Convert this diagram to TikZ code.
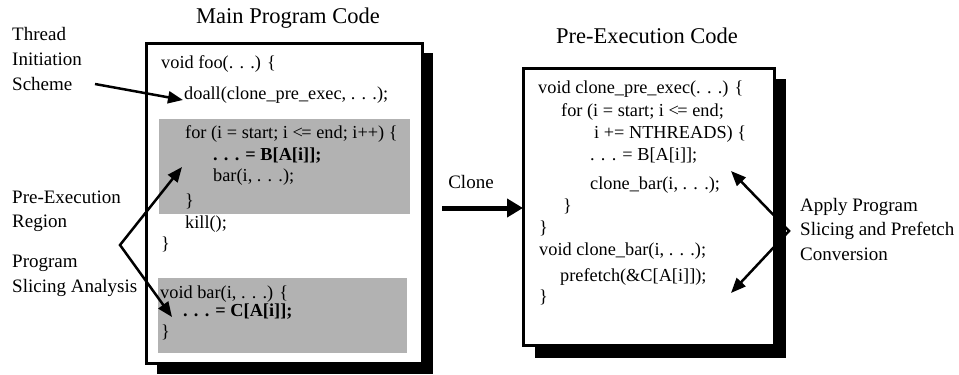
\documentclass[tikz,border=0pt]{standalone}
\usepackage{fontspec}
\setmainfont{Liberation Serif}
\usetikzlibrary{arrows.meta}
\definecolor{regiongray}{RGB}{178,178,178}
\newcommand{\ddd}{.\hspace{0.34em}.\hspace{0.34em}.}
\newcommand{\lte}{<\kern-0.08em=}
\begin{document}
\begin{tikzpicture}[x=1pt,y=-1pt,
  codetxt/.style={anchor=west,inner sep=0pt,font=\fontsize{18.3}{20}\selectfont,text height=0.7em,text depth=0.2em},
  boldcode/.style={codetxt,font=\fontsize{18.3}{20}\selectfont\bfseries},
  lbl/.style={anchor=west,inner sep=0pt,font=\fontsize{19}{21}\selectfont,text height=0.7em,text depth=0.2em},
  ttl/.style={anchor=center,inner sep=0pt,font=\fontsize{22.5}{24}\selectfont,text height=0.7em,text depth=0.2em},
  shadowbox/.style={fill=black},
  codebox/.style={fill=white,draw=black,line width=3pt},
  region/.style={fill=regiongray},
  thinarrow/.style={line width=2.5pt,-{Triangle[length=15pt,width=12pt]}},
  twoarrow/.style={line width=2.5pt,line join=miter,{Triangle[length=15pt,width=12pt]}-{Triangle[length=15pt,width=12pt]}},
  clonearrow/.style={line width=5pt,-{Triangle[length=16pt,width=18pt]}}]
\useasboundingbox (0,0) rectangle (959,375);

% Main program box
\fill[shadowbox] (157,53) rectangle (433,374);
\draw[codebox] (146,43) rectangle (422,363);
\fill[region] (159,119) rectangle (410,214);
\fill[region] (158,278) rectangle (407,353);

\node[ttl] (t1) at (288,21) {Main Program Code};
\node[codetxt] (m1) at (161,66) {void foo(\ddd) \{};
\node[codetxt] (m2) at (184,97) {doall(clone\_pre\_exec, \ddd);};
\node[codetxt] (m3) at (185,136) {for (i = start; i \lte{} end; i++) \{};
\node[boldcode] (m4) at (213,158) {\ddd{} = B[A[i]];};
\node[codetxt] (m5) at (213,179) {bar(i, \ddd);};
\node[codetxt] (m6) at (185,204) {\}};
\node[codetxt] (m7) at (185,226) {kill();};
\node[codetxt] (m8) at (161,247) {\}};
\node[codetxt] (m9) at (160,296) {void bar(i, \ddd) \{};
\node[boldcode] (m10) at (183,314) {\ddd{} = C[A[i]];};
\node[codetxt] (m11) at (161,335) {\}};

% Pre-execution box
\fill[shadowbox] (535,79) rectangle (786,358);
\draw[codebox] (523,68) rectangle (774,345);
\node[ttl] (t2) at (647,41) {Pre-Execution Code};
\node[codetxt] (p1) at (538,91) {void clone\_pre\_exec(\ddd) \{};
\node[codetxt] (p2) at (561,114) {for (i = start; i \lte{} end;};
\node[codetxt] (p3) at (594,136) {i += NTHREADS) \{};
\node[codetxt] (p4) at (590,158) {\ddd{} = B[A[i]];};
\node[codetxt] (p5) at (590,187) {clone\_bar(i, \ddd);};
\node[codetxt] (p6) at (563,209) {\}};
\node[codetxt] (p7) at (539,231) {\}};
\node[codetxt] (p8) at (539,253) {void clone\_bar(i, \ddd);};
\node[codetxt] (p9) at (560,279) {prefetch(\&C[A[i]]);};
\node[codetxt] (p10) at (539,300) {\}};

% Left labels
\node[lbl] (l1) at (12,38) {Thread};
\node[lbl] (l2) at (12,63) {Initiation};
\node[lbl] (l3) at (12,88) {Scheme};
\node[lbl] (l4) at (12,201) {Pre-Execution};
\node[lbl] (l5) at (12,225) {Region};
\node[lbl] (l6) at (12,265) {Program};
\node[lbl] (l7) at (12,290) {Slicing Analysis};

% Right labels
\node[lbl] (r1) at (800,209) {Apply Program};
\node[lbl] (r2) at (800,233) {Slicing and Prefetch};
\node[lbl] (r3) at (800,258) {Conversion};

% Clone
\node[lbl,anchor=center] (cl) at (471,186) {Clone};
\coordinate (cs) at (442,208);
\coordinate (ce) at (523,208);
\draw[clonearrow] (cs) -- (ce);

% Arrows
\coordinate (ts) at (95,84);
\coordinate (tt) at (183,100);
\draw[thinarrow] (ts) -- (tt);

\coordinate (lv) at (120,245);
\coordinate (lu) at (182,167);
\coordinate (ld) at (172,317);
\draw[twoarrow] (lu) -- (lv) -- (ld);

\coordinate (rv) at (789,231);
\coordinate (ru) at (731,171);
\coordinate (rd) at (731,293);
\draw[twoarrow] (ru) -- (rv) -- (rd);
\end{tikzpicture}
\end{document}
